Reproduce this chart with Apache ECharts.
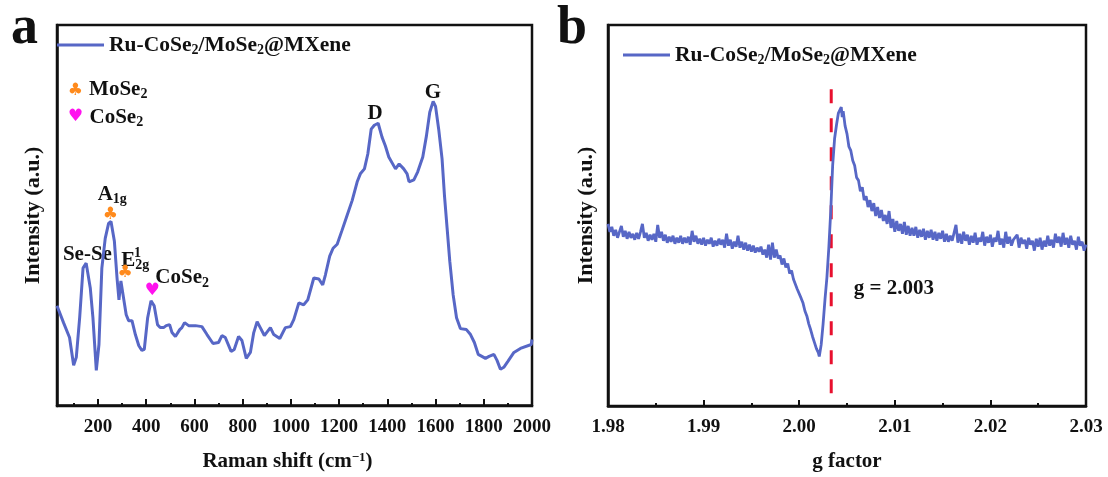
<!DOCTYPE html>
<html><head><meta charset="utf-8">
<style>html,body{margin:0;padding:0;background:#fff}#c{width:1108px;height:477px}</style>
<script src="https://cdn.jsdelivr.net/npm/echarts@6/dist/echarts.min.js"></script></head>
<body><div id="c"></div>
<script>
const seriesName = 'Ru-CoSe2/MoSe2@MXene';
const ramanShift = [30,57,82,99,110,124,138,151,168,179,193,204,216,230,244,254,268,279,287,295,304,317,327,341,355,369,382,392,406,420,433,447,458,472,483,497,507,521,539,548,559,576,604,631,652,677,700,714,728,752,765,783,797,815,832,846,860,873,890,915,929,954,977,998,1012,1033,1053,1070,1095,1116,1132,1143,1161,1175,1192,1212,1233,1254,1275,1288,1305,1319,1333,1346,1362,1378,1392,1406,1434,1449,1468,1482,1490,1510,1526,1547,1562,1576,1590,1600,1613,1627,1637,1648,1659,1673,1687,1703,1728,1745,1761,1777,1807,1822,1842,1855,1869,1883,1900,1925,1952,1997,2000];
const ramanIntensity = [100,83,68,40,48,88,138,143,118,88,35,61,138,168,183,185,165,128,106,125,111,91,85,85,71,60,55,56,88,105,100,81,78,78,80,81,73,69,76,78,83,80,80,79,71,62,63,70,68,54,56,69,65,47,53,73,84,78,70,78,71,67,78,79,86,103,101,106,128,127,121,131,150,158,162,176,191,206,225,233,238,253,278,282,284,270,261,250,238,243,238,233,225,227,235,250,271,295,306,301,278,248,211,178,145,111,88,77,76,71,63,51,47,49,51,45,36,38,44,53,57,61,66];
const gFactor = [
1.9800,1.9802,1.9804,1.9806,1.9808,1.9810,1.9812,1.9814,1.9816,1.9818,
1.9820,1.9822,1.9824,1.9826,1.9828,1.9830,1.9832,1.9834,1.9836,1.9838,
1.9840,1.9842,1.9844,1.9846,1.9848,1.9850,1.9852,1.9854,1.9856,1.9858,
1.9860,1.9862,1.9864,1.9866,1.9868,1.9870,1.9872,1.9874,1.9876,1.9878,
1.9880,1.9882,1.9884,1.9886,1.9888,1.9890,1.9892,1.9894,1.9896,1.9898,
1.9900,1.9902,1.9904,1.9906,1.9908,1.9910,1.9912,1.9914,1.9916,1.9918,
1.9920,1.9922,1.9924,1.9926,1.9928,1.9930,1.9932,1.9934,1.9936,1.9938,
1.9940,1.9942,1.9944,1.9946,1.9948,1.9950,1.9952,1.9954,1.9956,1.9958,
1.9960,1.9962,1.9964,1.9966,1.9968,1.9970,1.9972,1.9974,1.9976,1.9978,
1.9980,1.9982,1.9984,1.9986,1.9988,1.9990,1.9992,1.9994,1.9996,1.9998,
2.0000,2.0002,2.0004,2.0006,2.0008,2.0010,2.0012,2.0014,2.0016,2.0018,
2.0020,2.0021,2.0023,2.0025,2.0027,2.0029,2.0031,2.0033,2.0035,2.0037,
2.0039,2.0041,2.0043,2.0044,2.0045,2.0046,2.0048,2.0050,2.0052,2.0054,
2.0056,2.0058,2.0060,2.0062,2.0064,2.0066,2.0068,2.0070,2.0072,2.0074,
2.0076,2.0078,2.0080,2.0082,2.0084,2.0086,2.0088,2.0090,2.0092,2.0094,
2.0096,2.0098,
2.0100,2.0102,2.0104,2.0106,2.0108,2.0110,2.0112,2.0114,2.0116,2.0118,
2.0120,2.0122,2.0124,2.0126,2.0128,2.0130,2.0132,2.0134,2.0136,2.0138,
2.0140,2.0142,2.0144,2.0146,2.0148,2.0150,2.0152,2.0154,2.0156,2.0158,
2.0160,2.0162,2.0164,2.0166,2.0168,2.0170,2.0172,2.0174,2.0176,2.0178,
2.0180,2.0182,2.0184,2.0186,2.0188,2.0190,2.0192,2.0194,2.0196,2.0198,
2.0200,2.0202,2.0204,2.0206,2.0208,2.0210,2.0212,2.0214,2.0216,2.0218,
2.0220,2.0222,2.0224,2.0226,2.0228,2.0230,2.0232,2.0234,2.0236,2.0238,
2.0240,2.0242,2.0244,2.0246,2.0248,2.0250,2.0252,2.0254,2.0256,2.0258,
2.0260,2.0262,2.0264,2.0266,2.0268,2.0270,2.0272,2.0274,2.0276,2.0278,
2.0280,2.0282,2.0284,2.0286,2.0288,2.0290,2.0292,2.0294,2.0296,2.0298,
2.0300];
const eprIntensity = [
184,176,181,172,178,170,176,182,171,177,
169,176,170,174,168,175,169,176,184,170,
175,167,173,168,174,166,183,170,176,167,
173,165,171,166,172,164,170,165,172,164,
170,165,171,163,177,166,172,164,169,163,
170,162,168,164,170,161,167,162,169,163,
168,160,174,162,168,159,166,161,172,160,
166,158,165,157,163,156,162,155,160,156,
161,153,158,150,163,148,165,150,158,149,
152,143,149,140,144,134,137,128,128,118,
117,109,104,96,91,83,77,70,64,58,
54,50,62,83,108,130,160,197,243,270,
284,296,294,302,292,298,283,275,262,258,
248,243,231,228,217,221,208,212,201,208,
197,205,192,201,190,198,187,193,184,197,
180,189,
176,187,177,184,174,186,173,182,172,180,
172,181,170,178,171,179,168,177,170,178,
168,176,167,175,169,177,166,174,166,172,
167,175,183,165,174,164,176,167,173,163,
172,165,175,163,170,166,176,162,171,165,
173,161,170,166,177,163,169,160,176,164,
171,162,168,166,173,160,170,164,168,159,
170,163,167,157,169,161,170,158,167,161,
172,162,168,160,174,165,171,161,175,163,
170,160,172,163,167,158,171,162,166,157,
163];
const dashG = [2.00335,2.00335];
const dashY = [320,10];

const lineColor = '#5767c6';
const serif = '"Liberation Serif","Times New Roman",serif';
const rich = {
  t:{fontFamily:serif,fontWeight:'bold',fontSize:21,color:'#111',lineHeight:25},
  s:{fontFamily:serif,fontWeight:'bold',fontSize:14,color:'#111',lineHeight:14,padding:[10,0,0,0]},
  u:{fontFamily:serif,fontWeight:'bold',fontSize:14,color:'#111',lineHeight:14,padding:[0,0,9,0]},
  club:{fontFamily:'"DejaVu Sans"',fontSize:17,color:'#ff8a1c'},
  heart:{fontFamily:'"DejaVu Sans"',fontSize:17,color:'#ff12ee'}
};
const annotationsA = [
  [284,318,'{t|MoSe}{s|2}'],[106,317,'{club|♣}'],
  [276,290,'{t|CoSe}{s|2}'],[106,291,'{heart|♥}'],
  [156,152,'{t|Se-Se}'],
  [259,212,'{t|A}{s|1g}'],[251,192,'{club|♣}'],
  [355,146,'{t|E}{s|2g}'],[364,148,'{u|1}'],[313,133,'{club|♣}'],
  [549,128,'{t|CoSe}{s|2}'],[425,115,'{heart|♥}'],
  [1349,294,'{t|D}'],[1589,315,'{t|G}']
];
const annotationsB = [[2.0099,119,'{t|g = 2.003}']];
const zip = (a,b)=>a.map((v,i)=>[v,b[i]]);
function labels(data, xi, yi){
  return {type:'scatter',xAxisIndex:xi,yAxisIndex:yi,symbolSize:1,itemStyle:{color:'rgba(0,0,0,0)',opacity:1},silent:true,
    data:data.map(d=>({value:[d[0],d[1]],label:{show:true,position:'inside',formatter:d[2],rich,opacity:1}}))};
}
const axisText = {fontFamily:serif,fontWeight:'bold',fontSize:19,color:'#111'};
const nameText = {fontFamily:serif,fontWeight:'bold',fontSize:21,color:'#111',rich:{
  t:{fontFamily:serif,fontWeight:'bold',fontSize:21,color:'#111'},
  u:{fontFamily:serif,fontWeight:'bold',fontSize:13,color:'#111',padding:[0,0,8,0]}}};
const yNameText = {...nameText,fontSize:22};
const axLine = {show:true,lineStyle:{color:'#111',width:2.5}};
const legendRich = {t:{fontFamily:serif,fontWeight:'bold',fontSize:21.5,color:'#111',lineHeight:25},
  s:{fontFamily:serif,fontWeight:'bold',fontSize:14,color:'#111',lineHeight:14,padding:[10,0,0,0]}};
const legendFmt = '{t|Ru-CoSe}{s|2}{t|/MoSe}{s|2}{t|@MXene}';
const ticks200 = [200,400,600,800,1000,1200,1400,1600,1800,2000];
const ticks100 = [100,300,500,700,900,1100,1300,1500,1700,1900];

const chart = echarts.init(document.getElementById('c'),null,{renderer:'canvas'});
const legendCommon = {data:[seriesName],icon:'rect',itemWidth:47,itemHeight:3,itemGap:0,formatter:legendFmt,textStyle:{rich:legendRich},selectedMode:false,padding:0,itemStyle:{color:lineColor}};
chart.setOption({
  animation:false,backgroundColor:'#fff',
  grid:[
    {left:57,top:25,width:475,height:384,show:true,borderColor:'#111',borderWidth:2.5,backgroundColor:'transparent'},
    {left:608,top:25,width:478,height:385,show:true,borderColor:'#111',borderWidth:2.5,backgroundColor:'transparent'}
  ],
  xAxis:[
    {type:'value',gridIndex:0,min:30,max:2000,splitLine:{show:false},axisLine:axLine,
     axisTick:{show:true,inside:true,length:6,lineStyle:{color:'#111',width:2},customValues:ticks200},
     axisLabel:{...axisText,margin:12,customValues:ticks200,formatter:v=>String(v)},
     name:'{t|Raman shift (cm}{u|−1}{t|)}',nameLocation:'middle',nameGap:45,nameTextStyle:{...nameText,padding:[0,14,0,0]}},
    {type:'value',gridIndex:0,min:30,max:2000,splitLine:{show:false},axisLine:{show:false},
     axisTick:{show:true,inside:true,length:3,lineStyle:{color:'#111',width:2},customValues:ticks100},
     axisLabel:{show:false},position:'bottom'},
    {type:'value',gridIndex:1,min:1.98,max:2.03,interval:0.01,splitLine:{show:false},axisLine:axLine,
     axisTick:{show:true,inside:true,length:6,lineStyle:{color:'#111',width:2}},
     minorTick:{show:true,splitNumber:2,length:3,lineStyle:{color:'#111',width:2}},
     axisLabel:{...axisText,margin:12,formatter:v=>v.toFixed(2)},
     name:'g factor',nameLocation:'middle',nameGap:45,nameTextStyle:nameText}
  ],
  yAxis:[
    {type:'value',gridIndex:0,min:-1,max:383,splitLine:{show:false},axisLine:axLine,axisTick:{show:false},axisLabel:{show:false},
     name:'Intensity (a.u.)',nameLocation:'middle',nameGap:13,nameTextStyle:yNameText},
    {type:'value',gridIndex:1,min:0,max:385,splitLine:{show:false},axisLine:axLine,axisTick:{show:false},axisLabel:{show:false},
     name:'Intensity (a.u.)',nameLocation:'middle',nameGap:11,nameTextStyle:yNameText}
  ],
  legend:[
    {...legendCommon,left:57,top:33},
    {...legendCommon,left:623,top:43}
  ],
  graphic:[
    {type:'text',left:11,top:2,style:{text:'a',font:'bold 54px '+serif,fill:'#111'}},
    {type:'text',left:557,top:2,style:{text:'b',font:'bold 54px '+serif,fill:'#111'}}
  ],
  series:[
    {name:seriesName,type:'line',xAxisIndex:0,yAxisIndex:0,data:zip(ramanShift,ramanIntensity),symbol:'none',lineStyle:{color:lineColor,width:3},itemStyle:{color:lineColor}},
    {name:seriesName,type:'line',xAxisIndex:2,yAxisIndex:1,data:zip(gFactor,eprIntensity),symbol:'none',lineStyle:{color:lineColor,width:2.8},itemStyle:{color:lineColor}},
    {type:'line',xAxisIndex:2,yAxisIndex:1,data:zip(dashG,dashY),symbol:'none',z:1,lineStyle:{color:'#e8102e',width:3,type:[14,15]}},
    labels(annotationsA,0,0),
    labels(annotationsB,2,1)
  ]
});
</script></body></html>
